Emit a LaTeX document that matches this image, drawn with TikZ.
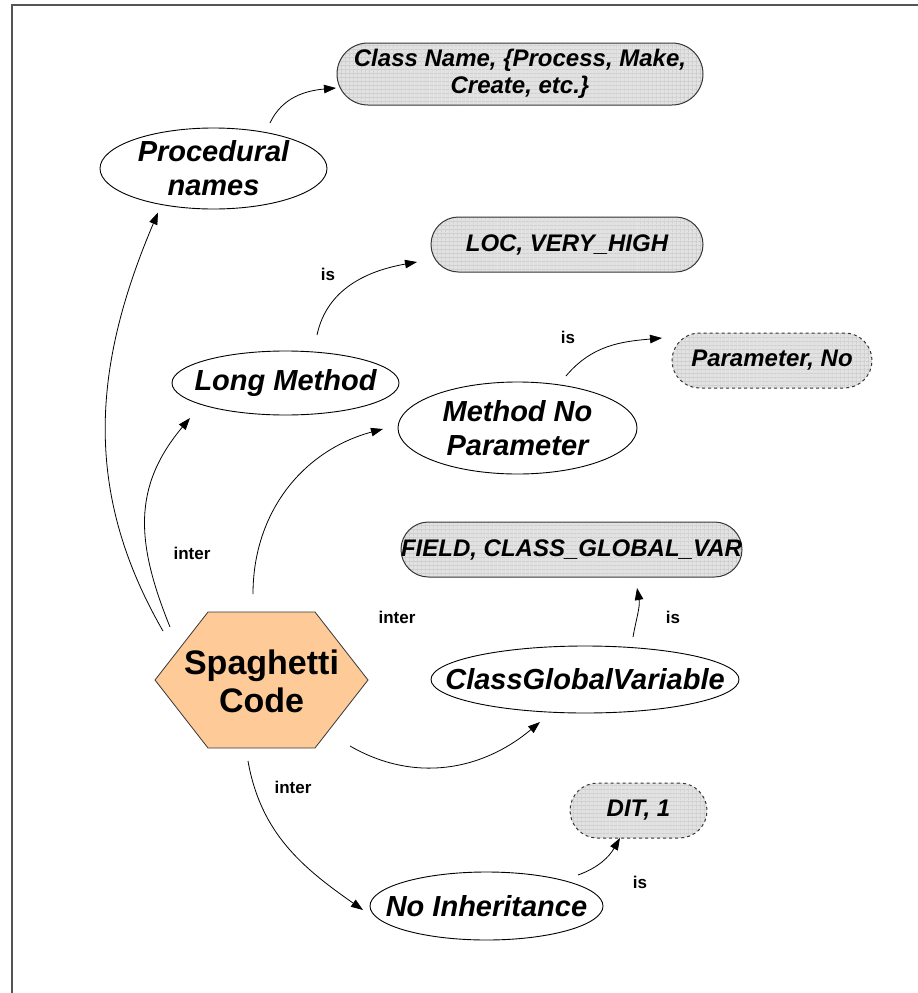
\documentclass[tikz,border=0pt]{standalone}
\usepackage{fontspec}
\setmainfont{Liberation Sans}
\usetikzlibrary{shapes.geometric,arrows.meta,patterns.meta}

\definecolor{peach}{RGB}{253,202,152}
\definecolor{boxgray}{RGB}{226,226,226}
\definecolor{gridgray}{RGB}{196,196,196}
\definecolor{edgegray}{RGB}{55,55,55}
\definecolor{framegray}{RGB}{85,85,85}

\tikzset{
  smell/.style={shape=ellipse, draw=black, line width=0.9pt, fill=white, inner sep=0pt},
  smelltext/.style={font=\bfseries\itshape\fontsize{29}{34}\selectfont, align=center, inner sep=0pt},
  valbox/.style={rectangle, draw=edgegray, line width=1pt, inner sep=0pt,
    preaction={fill=boxgray},
    preaction={pattern={Lines[distance=4pt,angle=0,line width=0.45pt]}, pattern color=gridgray},
    pattern={Lines[distance=4pt,angle=90,line width=0.45pt]}, pattern color=gridgray},
  valtext/.style={font=\bfseries\itshape\fontsize{24}{27}\selectfont, align=center, inner sep=0pt},
  hexa/.style={draw=edgegray, line width=0.8pt, fill=peach},
  hextext/.style={font=\bfseries\fontsize{34}{38}\selectfont, align=center, inner sep=0pt},
  rel/.style={font=\bfseries\fontsize{17}{20}\selectfont, inner sep=0pt},
  link/.style={draw=black, line width=0.8pt, -{Triangle[length=12pt,width=8.5pt]}}
}

\begin{document}
\begin{tikzpicture}[x=1pt, y=-1pt]
\useasboundingbox (0,0) rectangle (918,993);

% page frame
\draw[framegray, line width=1.5pt] (12,993) -- (12,5) -- (918,5);

% central anti-pattern
\draw[hexa] (155,680) -- (208,612) -- (315,612) -- (368,680) -- (315,748) -- (208,748) -- cycle;
\node[hextext] (spag) at (261.5,681) {Spaghetti\\Code};

% code smells
\node[smell, minimum width=227pt, minimum height=81pt,
  label={[smelltext]center:Procedural\\names}] (proc) at (213.5,168.5) {};
\node[smell, minimum width=227pt, minimum height=64pt,
  label={[smelltext]center:Long Method}] (lm) at (285.5,383) {};
\node[smell, minimum width=239pt, minimum height=92pt,
  label={[smelltext]center:Method No\\Parameter}] (mnp) at (517.5,428) {};
\node[smell, minimum width=308pt, minimum height=67pt,
  label={[smelltext]center:ClassGlobalVariable}] (cgv) at (585,679.5) {};
\node[smell, minimum width=233pt, minimum height=68pt,
  label={[smelltext]center:No Inheritance}] (noi) at (486.5,906) {};

% metric / lexical values
\node[valbox, rounded corners=31pt, minimum width=366pt, minimum height=62pt,
  label={[valtext]center:Class Name, \{Process, Make,\\Create, etc.\}}] (cls) at (520,74) {};
\node[valbox, rounded corners=27.5pt, minimum width=272pt, minimum height=55pt,
  label={[valtext]center:LOC, VERY\_HIGH}] (loc) at (567,244.5) {};
\node[valbox, dashed, rounded corners=27.5pt, minimum width=200pt, minimum height=55pt,
  label={[valtext]center:Parameter, No}] (par) at (772,360.5) {};
\node[valbox, rounded corners=27.5pt, minimum width=341pt, minimum height=55pt,
  label={[valtext]center:FIELD, CLASS\_GLOBAL\_VAR}] (fld) at (571.5,549.5) {};
\node[valbox, dashed, rounded corners=27.5pt, minimum width=137pt, minimum height=55pt,
  label={[valtext]center:DIT, 1}] (dit) at (638.5,810.5) {};

% relation labels
\node[rel] (inter1) at (192,553) {inter};
\node[rel] (inter2) at (397,617) {inter};
\node[rel] (inter3) at (293,787) {inter};
\node[rel] (is1) at (328,274) {is};
\node[rel] (is2) at (568,337) {is};
\node[rel] (is3) at (673,617) {is};
\node[rel] (is4) at (640,882) {is};

% inter relations from the anti-pattern
\draw[link] ([shift={(-98.5,-50)}]spag.center) to[out=120,in=-113] ([shift={(-55.5,44)}]proc.center);
\draw[link] ([shift={(-91.5,-54)}]spag.center) to[out=112,in=-130,looseness=1.1] ([shift={(-95.5,35)}]lm.center);
\draw[link] ([shift={(-8.5,-87)}]spag.center) to[out=90,in=195] ([shift={(-134.5,1)}]mnp.center);
\draw[link] ([shift={(88.5,65)}]spag.center) to[out=-30,in=-140] ([shift={(-45,42.5)}]cgv.center);
\draw[link] ([shift={(-13.5,80)}]spag.center) to[out=-80,in=145] ([shift={(-123.5,4)}]noi.center);

% is relations to values
\draw[link] ([shift={(56.5,-45.5)}]proc.center) to[out=65,in=185] ([shift={(-184,14)}]cls.center);
\draw[link] ([shift={(31.5,-48)}]lm.center) to[out=78,in=190] ([shift={(-150,17.5)}]loc.center);
\draw[link] ([shift={(48.5,-52)}]mnp.center) to[out=50,in=185] ([shift={(-110,-22.5)}]par.center);
\draw[link] ([shift={(48,-42.5)}]cgv.center) to[out=80,in=-80] ([shift={(65.5,38.5)}]fld.center);
\draw[link] ([shift={(91.5,-31)}]noi.center) to[out=20,in=-120] ([shift={(-18.5,27.5)}]dit.center);
\end{tikzpicture}
\end{document}
